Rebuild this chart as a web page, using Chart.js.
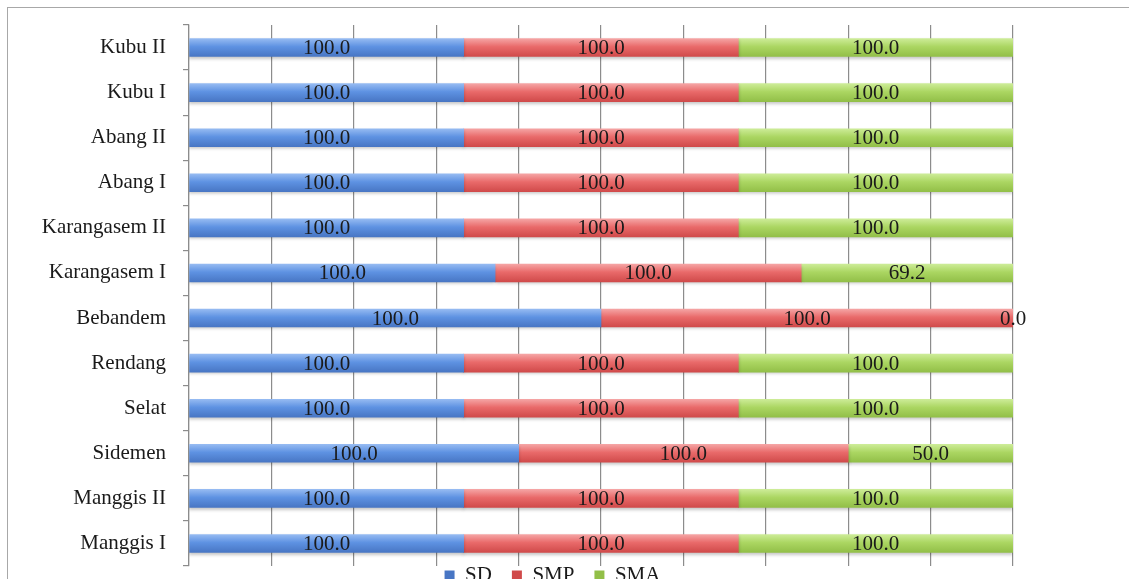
<!DOCTYPE html>
<html>
<head>
<meta charset="utf-8">
<script src="https://cdn.jsdelivr.net/npm/chart.js@4.4.1/dist/chart.umd.min.js"></script>
<style>
html, body { margin: 0; padding: 0; background: #fff; overflow: hidden; width: 1136px; height: 579px; }
#frame { position: absolute; left: 7px; top: 7px; width: 1121px; height: 620px; border-top: 1px solid #a8a8a8; border-left: 1px solid #a8a8a8; }
#chart { position: absolute; left: 0; top: 0; }
</style>
</head>
<body>
<div id="frame"></div>
<canvas id="chart" width="1136" height="617"></canvas>
<script>
const categories = ['Kubu II', 'Kubu I', 'Abang II', 'Abang I', 'Karangasem II', 'Karangasem I',
    'Bebandem', 'Rendang', 'Selat', 'Sidemen', 'Manggis II', 'Manggis I'];
const sdValues  = [100, 100, 100, 100, 100, 100, 100, 100, 100, 100, 100, 100];
const smpValues = [100, 100, 100, 100, 100, 100, 100, 100, 100, 100, 100, 100];
const smaValues = [100, 100, 100, 100, 100, 69.2, 0, 100, 100, 50, 100, 100];
const seriesNames = ['SD', 'SMP', 'SMA'];

// 100% stacked: each bar is the share of the row total
function shares(values) {
    return values.map((v, i) => v / (sdValues[i] + smpValues[i] + smaValues[i]) * 100);
}

const serif = 'Liberation Serif, Times New Roman, serif';

// top / middle / bottom colours of the shaded bars
const shades = [
    ['#96bbf2', '#5e92e2', '#4876c4'],
    ['#f5a5a5', '#e96a6a', '#d04a4a'],
    ['#cdec98', '#abd662', '#92bf48']
];

function barFill(idx) {
    return (ctx) => {
        const chart = ctx.chart;
        if (!chart.chartArea || !chart.scales.y) return shades[idx][1];
        const yc = chart.scales.y.getPixelForValue(ctx.dataIndex);
        const g = chart.ctx.createLinearGradient(0, yc - 9, 0, yc + 9);
        g.addColorStop(0, shades[idx][0]);
        g.addColorStop(0.45, shades[idx][1]);
        g.addColorStop(1, shades[idx][2]);
        return g;
    };
}

const rawValues = [sdValues, smpValues, smaValues];

// soft shadow under the bars
const barShadow = {
    id: 'barShadow',
    beforeDatasetsDraw(chart) {
        const ctx = chart.ctx;
        ctx.save();
        ctx.shadowColor = 'rgba(0, 0, 0, 0.22)';
        ctx.shadowBlur = 3;
        ctx.shadowOffsetY = 2;
    },
    afterDatasetsDraw(chart) {
        chart.ctx.restore();
    }
};

const valueLabels = {
    id: 'valueLabels',
    afterDatasetsDraw(chart) {
        const ctx = chart.ctx;
        ctx.save();
        ctx.font = '21px ' + serif;
        ctx.fillStyle = '#1a1a1a';
        ctx.textAlign = 'center';
        ctx.textBaseline = 'middle';
        chart.data.datasets.forEach((ds, di) => {
            const meta = chart.getDatasetMeta(di);
            meta.data.forEach((bar, i) => {
                const x = (bar.x + bar.base) / 2;
                ctx.fillText(rawValues[di][i].toFixed(1), x, bar.y + 1);
            });
        });
        ctx.restore();
    }
};

// nudge the legend so it sits where the original one does
const legendShift = {
    id: 'legendShift',
    afterLayout(chart) {
        if (chart.legend) {
            chart.legend.left += 46;
            chart.legend.right += 46;
            chart.legend.top -= 21;
            chart.legend.bottom -= 21;
        }
    }
};

new Chart(document.getElementById('chart'), {
    type: 'bar',
    data: {
        labels: categories,
        datasets: [
            { label: seriesNames[0], data: shares(sdValues), backgroundColor: barFill(0) },
            { label: seriesNames[1], data: shares(smpValues), backgroundColor: barFill(1) },
            { label: seriesNames[2], data: shares(smaValues), backgroundColor: barFill(2) }
        ]
    },
    options: {
        indexAxis: 'y',
        responsive: false,
        animation: false,
        barThickness: 18,
        layout: { padding: { left: 0, right: 123, top: 25, bottom: 0 } },
        plugins: {
            tooltip: { enabled: false },
            legend: {
                position: 'bottom',
                labels: {
                    color: '#1a1a1a',
                    font: { family: serif, size: 21 },
                    boxWidth: 10,
                    boxHeight: 10,
                    padding: 20
                }
            }
        },
        scales: {
            x: {
                stacked: true,
                min: 0,
                max: 100,
                ticks: { display: false, stepSize: 10 },
                grid: { color: '#8c8c8c', lineWidth: 1.2, drawTicks: false },
                border: { display: false }
            },
            y: {
                stacked: true,
                afterFit(axis) {
                    axis.width = 189;
                    axis.paddingTop = 0;
                    axis.paddingBottom = 0;
                },
                ticks: {
                    color: '#1a1a1a',
                    font: { family: serif, size: 21 },
                    padding: 17
                },
                grid: { drawOnChartArea: false, offset: true, tickLength: 6, color: '#8c8c8c', lineWidth: 1.2 },
                border: { color: '#8c8c8c', width: 1.2 }
            }
        }
    },
    plugins: [barShadow, valueLabels, legendShift]
});
</script>
</body>
</html>
